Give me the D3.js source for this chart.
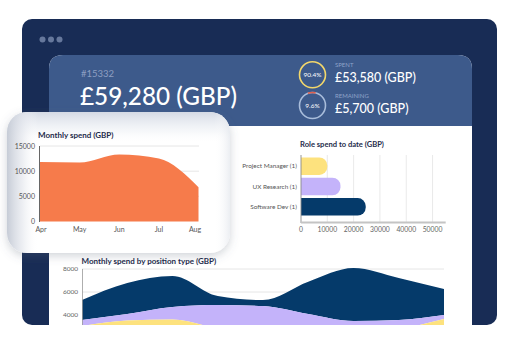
<!DOCTYPE html>
<html><head><meta charset="utf-8">
<script src="https://cdn.jsdelivr.net/npm/d3@7"></script>
<style>
html,body{margin:0;padding:0;background:#fff;}
svg{display:block;font-family:Lato, "Open Sans", sans-serif;}
</style></head>
<body><svg id="c" width="521" height="357"></svg>
<script>
// ---- data ----
const monthLabels = ["Apr", "May", "Jun", "Jul", "Aug"];
const monthlySpend = [11800, 11700, 13300, 12500, 6800];
const monthlyTicks = [0, 5000, 10000, 15000];

const roles = ["Project Manager (1)", "UX Research (1)", "Software Dev (1)"];
const roleSpend = [10000, 15000, 24600];
const roleTicks = [0, 10000, 20000, 30000, 40000, 50000];
const roleColors = ["#fde27e", "#c4b3fa", "#053a6a"];

const periods = ["Apr 1", "Apr 15", "May 1", "May 15", "Jun 1", "Jun 15", "Jul 1", "Jul 15", "Aug 1"];
const pmSeries  = [3040, 3520, 3610, 2780, 1830, 1390, 1830, 2700, 3650];
const uxSeries  = [525, 570, 1090, 2090, 2950, 2700, 1650, 865, 350];
const devSeries = [1735, 2690, 2690, 780, 520, 2810, 4610, 3655, 2260];
const positionTicks = [4000, 6000, 8000];

const headerId = "#15332";
const headerTotal = "£59,280 (GBP)";
const spentPct = 90.4, spentLabel = "SPENT", spentValue = "£53,580 (GBP)";
const remainPct = 9.6, remainLabel = "REMAINING", remainValue = "£5,700 (GBP)";

// ---- drawing ----
const svg = d3.select("#c");
const defs = svg.append("defs");

const fs = defs.append("filter").attr("id","sh").attr("x","-20%").attr("y","-20%").attr("width","140%").attr("height","150%");
fs.append("feDropShadow").attr("dx",0).attr("dy",3).attr("stdDeviation",5).attr("flood-color","#5a6478").attr("flood-opacity",0.28);

const gl = defs.append("linearGradient").attr("id","gl").attr("x1",0).attr("x2",1).attr("y1",0).attr("y2",0);
gl.append("stop").attr("offset","0%").attr("stop-color","#c3c9d4").attr("stop-opacity",0.95);
gl.append("stop").attr("offset","7%").attr("stop-color","#e1e4eb").attr("stop-opacity",0.6);
gl.append("stop").attr("offset","14%").attr("stop-color","#ffffff").attr("stop-opacity",0);
gl.append("stop").attr("offset","93%").attr("stop-color","#ffffff").attr("stop-opacity",0);
gl.append("stop").attr("offset","100%").attr("stop-color","#dfe3ea").attr("stop-opacity",0.6);
const gt = defs.append("linearGradient").attr("id","gt").attr("x1",0).attr("x2",0).attr("y1",0).attr("y2",1);
gt.append("stop").attr("offset","0%").attr("stop-color","#d2d8e3").attr("stop-opacity",0.95);
gt.append("stop").attr("offset","14%").attr("stop-color","#eceff4").attr("stop-opacity",0.45);
gt.append("stop").attr("offset","22%").attr("stop-color","#ffffff").attr("stop-opacity",0);

defs.append("clipPath").attr("id","frameClip").append("rect").attr("x",0).attr("y",0).attr("width",521).attr("height",325);

// outer frame
svg.append("rect").attr("x",22).attr("y",19).attr("width",475).attr("height",306).attr("rx",10).attr("fill","#182c55");
[42.5, 51, 59.5].forEach(cx => svg.append("circle").attr("cx",cx).attr("cy",39.5).attr("r",3).attr("fill","#66789c"));

// inner panel
const panel = svg.append("g").attr("clip-path","url(#frameClip)");
panel.append("path").attr("d","M49,340 V69 Q49,55 63,55 H458 Q472,55 472,69 V340 Z").attr("fill","#ffffff");
panel.append("path").attr("d","M49,126 V69 Q49,55 63,55 H458 Q472,55 472,69 V126 Z").attr("fill","#3d5a8b");

// header texts
svg.append("text").attr("x",81).attr("y",77).attr("fill","#8d9fc2").attr("font-size",9.5).text(headerId);
svg.append("text").attr("x",80).attr("y",105).attr("fill","#ffffff").attr("font-size",24.3).attr("font-weight",500).text(headerTotal);

function ring(cx, cy, pct, color, arcColor, label, value) {
  svg.append("circle").attr("cx",cx).attr("cy",cy).attr("r",13).attr("fill","none").attr("stroke",color).attr("stroke-width",1.6);
  if (arcColor) {
    const a = d3.arc().innerRadius(12.2).outerRadius(13.8).startAngle(-pct/100*Math.PI*2*0.6).endAngle(pct/100*Math.PI*2*0.4);
    svg.append("path").attr("transform",`translate(${cx},${cy})`).attr("d",a()).attr("fill",arcColor);
  }
  svg.append("text").attr("x",cx).attr("y",cy+2.3).attr("text-anchor","middle").attr("fill","#ffffff").attr("font-size",6.5).text(pct + "%");
  svg.append("text").attr("x",cx+22.5).attr("y",cy-7.5).attr("fill","#8fa3c9").attr("font-size",6).text(label);
  svg.append("text").attr("x",cx+22.5).attr("y",cy+7.5).attr("fill","#ffffff").attr("font-size",12.5).attr("font-weight",500).text(value);
}
ring(312.5, 74.8, spentPct, "#f3d76b", null, spentLabel, spentValue);
ring(312.5, 105.5, remainPct, "#a9bddb", "#e0604f", remainLabel, remainValue);

// ---- Role spend bar chart ----
const bx = d3.scaleLinear().domain([0, 55000]).range([301, 445.7]);
const by = d3.scaleBand().domain(roles).range([156, 217]).paddingInner(0.14).paddingOuter(0.07);
const bar = svg.append("g");
bar.append("text").attr("x",300).attr("y",147).attr("fill","#1e2b4b").attr("font-size",7.6).attr("font-weight",700).text("Role spend to date (GBP)");
bar.selectAll("line.g").data(roleTicks.slice(1)).join("line").attr("class","g")
  .attr("x1",d=>bx(d)).attr("x2",d=>bx(d)).attr("y1",155).attr("y2",222).attr("stroke","#e3e3e3").attr("stroke-width",0.8);
bar.selectAll("path.b").data(roles).join("path").attr("class","b")
  .attr("fill",(d,i)=>roleColors[i])
  .attr("d",(d,i)=>{
    const x0 = bx(0), x1 = bx(roleSpend[i]), y0 = by(d), h = by.bandwidth(), r = Math.min(8, h/2);
    return `M${x0},${y0} H${x1-r} A${r},${r} 0 0 1 ${x1},${y0+r} V${y0+h-r} A${r},${r} 0 0 1 ${x1-r},${y0+h} H${x0} Z`;
  });
bar.append("line").attr("x1",301).attr("x2",301).attr("y1",155).attr("y2",223).attr("stroke","#8a8a8a").attr("stroke-width",0.9);
bar.append("line").attr("x1",301).attr("x2",445.7).attr("y1",222.5).attr("y2",222.5).attr("stroke","#c4c4c4").attr("stroke-width",1.8);
bar.selectAll("text.xt").data(roleTicks).join("text").attr("class","xt")
  .attr("x",d=>bx(d)).attr("y",232).attr("text-anchor","middle").attr("fill","#666").attr("font-size",6.8).text(d=>d);
bar.selectAll("text.yl").data(roles).join("text").attr("class","yl")
  .attr("x",297).attr("y",d=>by(d)+by.bandwidth()/2+2.3).attr("text-anchor","end").attr("fill","#555").attr("font-size",6.4).text(d=>d);

// ---- Monthly spend by position type (stacked areas) ----
const px = d3.scalePoint().domain(periods).range([82, 444]);
const py = d3.scaleLinear().domain([0, 8000]).range([361, 269]);
const rows = periods.map((p,i)=>({p, pm: pmSeries[i], ux: uxSeries[i], dev: devSeries[i]}));
const stack = d3.stack().keys(["pm","ux","dev"])(rows);
const stackColors = {pm:"#fde27e", ux:"#c4b3fa", dev:"#053a6a"};
const pos = svg.append("g").attr("clip-path","url(#frameClip)");
pos.append("text").attr("x",81.5).attr("y",264).attr("fill","#1e2b4b").attr("font-size",8).attr("font-weight",700).text("Monthly spend by position type (GBP)");
pos.selectAll("line.g").data(positionTicks).join("line").attr("class","g")
  .attr("x1",82).attr("x2",444).attr("y1",d=>py(d)).attr("y2",d=>py(d)).attr("stroke","#e6e6e6").attr("stroke-width",1);
const area2 = d3.area().x(d=>px(d.data.p)).y0(d=>py(d[0])).y1(d=>py(d[1])).curve(d3.curveMonotoneX);
pos.selectAll("path.s").data(stack.slice().reverse()).join("path").attr("class","s")
  .attr("fill",d=>stackColors[d.key]).attr("d",area2);
pos.append("line").attr("x1",82.5).attr("x2",82.5).attr("y1",269).attr("y2",330).attr("stroke","#999").attr("stroke-width",0.8);
pos.selectAll("text.yt").data(positionTicks).join("text").attr("class","yt")
  .attr("x",78).attr("y",d=>py(d)+2.3).attr("text-anchor","end").attr("fill","#666").attr("font-size",6.5).text(d=>d);

// ---- floating card: Monthly spend ----
const card = svg.append("g");
card.append("rect").attr("x",7).attr("y",112).attr("width",223).attr("height",141).attr("rx",20).attr("fill","#ffffff").attr("filter","url(#sh)");
card.append("rect").attr("x",7).attr("y",112).attr("width",223).attr("height",141).attr("rx",20).attr("fill","url(#gt)");
card.append("rect").attr("x",7).attr("y",112).attr("width",223).attr("height",141).attr("rx",20).attr("fill","url(#gl)");
const mx = d3.scalePoint().domain(monthLabels).range([40, 198.5]);
const my = d3.scaleLinear().domain([0, 15000]).range([221.5, 146]);
card.append("text").attr("x",38).attr("y",138).attr("fill","#1e2b4b").attr("font-size",8).attr("font-weight",700).text("Monthly spend (GBP)");
card.selectAll("line.g").data(monthlyTicks.slice(1)).join("line").attr("class","g")
  .attr("x1",40).attr("x2",199).attr("y1",d=>my(d)).attr("y2",d=>my(d)).attr("stroke","#e3e3e3").attr("stroke-width",0.9);
const area1 = d3.area().x((d,i)=>mx(monthLabels[i])).y0(my(0)).y1(d=>my(d)).curve(d3.curveMonotoneX);
card.append("path").attr("d",area1(monthlySpend)).attr("fill","#f67b4b");
card.append("line").attr("x1",39.5).attr("x2",39.5).attr("y1",146).attr("y2",222).attr("stroke","#555").attr("stroke-width",0.9);
card.selectAll("text.yt").data(monthlyTicks).join("text").attr("class","yt")
  .attr("x",35).attr("y",d=>my(d)+2.5).attr("text-anchor","end").attr("fill","#555").attr("font-size",7).text(d=>d);
card.selectAll("text.xt").data(monthLabels).join("text").attr("class","xt")
  .attr("x",(d,i)=>mx(d) - (i===monthLabels.length-1 ? 3.5 : 0) + (i===0?1:0)).attr("y",232).attr("text-anchor","middle").attr("fill","#555").attr("font-size",7).text(d=>d);
</script></body></html>
